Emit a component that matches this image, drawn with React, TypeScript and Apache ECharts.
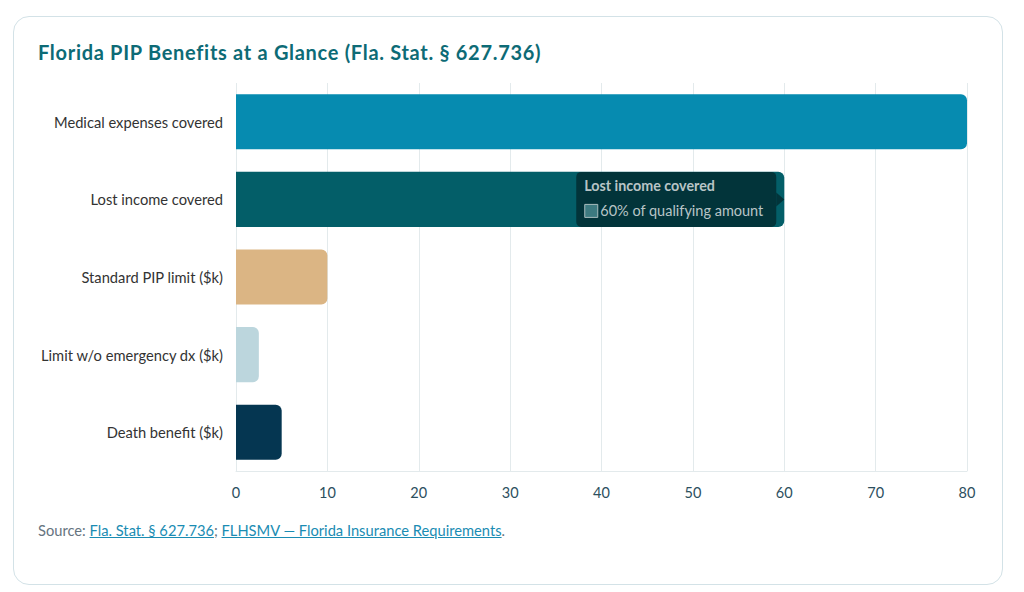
import React, { useEffect, useRef } from "react";
import * as echarts from "echarts";

const categories = [
  "Medical expenses covered",
  "Lost income covered",
  "Standard PIP limit ($k)",
  "Limit w/o emergency dx ($k)",
  "Death benefit ($k)",
];
const values = [80, 60, 10, 2.5, 5];
const notes = [
  "80% of reasonable expenses",
  "60% of qualifying amount",
  "$10,000",
  "$2,500",
  "$5,000",
];
const colors = ["#068bb0", "#035e68", "#dbb584", "#bcd6dd", "#053651"];
const xTicks = [0, 10, 20, 30, 40, 50, 60, 70, 80];
const tooltipIndex = 1;

const FONT = "Lato, 'Noto Sans', sans-serif";

export default function App() {
  const ref = useRef<HTMLDivElement>(null);
  useEffect(() => {
    if (!ref.current) return;
    const chart = echarts.init(ref.current, undefined, { renderer: "svg" });
    chart.setOption({
      animation: false,
      grid: { left: 223, right: 36, top: 8, bottom: 34, containLabel: false },
      xAxis: {
        type: "value",
        min: xTicks[0],
        max: xTicks[xTicks.length - 1],
        interval: 10,
        axisLine: { show: true, lineStyle: { color: "#e3eaec" } },
        axisTick: { show: false },
        splitLine: { show: true, lineStyle: { color: "#e3eaec" } },
        axisLabel: { color: "#2c4f5e", fontSize: 14.5, fontFamily: FONT, margin: 14 },
      },
      yAxis: {
        type: "category",
        inverse: true,
        data: categories,
        axisLine: { show: false },
        axisTick: { show: false },
        axisLabel: { color: "#333333", fontSize: 14.7, fontFamily: FONT, margin: 13 },
      },
      series: [
        {
          type: "bar",
          barWidth: "71%",
          data: values.map((v, i) => ({
            value: v,
            itemStyle: { color: colors[i], borderRadius: [0, 6, 6, 0] },
          })),
        },
      ],
    });
    const [px, py] = chart.convertToPixel({ gridIndex: 0 }, [values[tooltipIndex], tooltipIndex]) as number[];
    const w = 200, h = 55;
    const bx = px - 8 - w;
    const by = py - h / 2;
    chart.setOption({
      graphic: [
        {
          type: "group",
          x: bx,
          y: by,
          z: 100,
          silent: true,
          children: [
            { type: "rect", z: 100, shape: { x: 0, y: 0, width: w, height: h, r: 5 }, style: { fill: "#02343a" } },
            { type: "polygon", z: 100, shape: { points: [[w, h / 2 - 7], [w + 8, h / 2], [w, h / 2 + 7]] }, style: { fill: "#02343a" } },
            { type: "text", z: 101, x: 8, y: 7, style: { text: categories[tooltipIndex], fill: "#b8c4c6", font: `bold 14.3px ${FONT}` } },
            { type: "rect", z: 101, shape: { x: 8.5, y: 32.5, width: 13, height: 13 }, style: { fill: "#3d7a80", stroke: "#a9bcbe", lineWidth: 1 } },
            { type: "text", z: 101, x: 24, y: 31, style: { text: notes[tooltipIndex], fill: "#b8c4c6", font: `14.5px ${FONT}` } },
          ],
        },
      ],
    });
    return () => chart.dispose();
  }, []);

  return (
    <div style={{ position: "fixed", left: 0, top: 0, width: 1024, height: 592, background: "#ffffff", fontFamily: FONT }}>
      <div
        style={{
          position: "absolute",
          left: 13,
          top: 16,
          width: 988,
          height: 567,
          border: "1px solid #d3e2e7",
          borderRadius: 16,
          background: "#fff",
        }}
      />
      <div
        style={{
          position: "absolute",
          left: 38,
          top: 40,
          fontSize: 20,
          letterSpacing: 0.7,
          fontWeight: 700,
          color: "#0d6b76",
          whiteSpace: "nowrap",
        }}
      >
        Florida PIP Benefits at a Glance (Fla. Stat. § 627.736)
      </div>
      <div ref={ref} style={{ position: "absolute", left: 13, top: 75, width: 990, height: 430 }} />
      <div
        style={{
          position: "absolute",
          left: 38,
          top: 521,
          fontSize: 14.7,
          color: "#667480",
          whiteSpace: "nowrap",
        }}
      >
        Source: <a href="#" style={{ color: "#1a8cb3" }}>Fla. Stat. § 627.736</a>;{" "}
        <a href="#" style={{ color: "#1a8cb3" }}>FLHSMV — Florida Insurance Requirements</a>.
      </div>
    </div>
  );
}
